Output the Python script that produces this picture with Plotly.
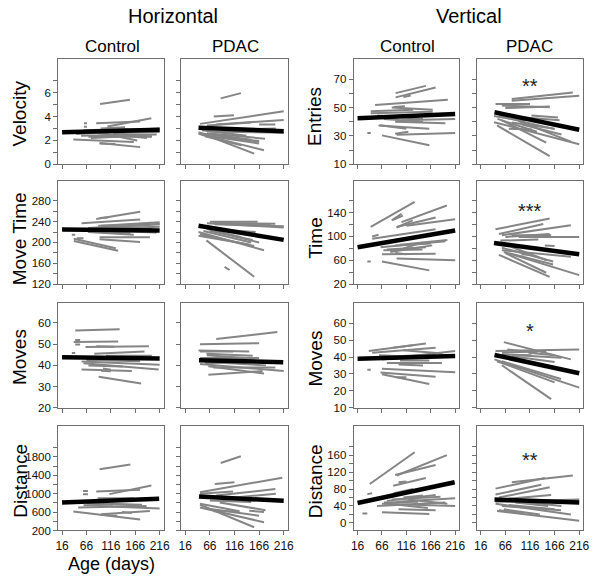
import plotly.graph_objects as go

# ---------------- data ----------------
age_ticks = [16, 66, 116, 166, 216]

# each individual segment: (age_start, age_end, value_start, value_end)
h_velocity_control = [
    (94, 155, 5.06, 5.42), (61, 67, 3.45, 3.45), (61, 67, 3.15, 3.15), (86, 176, 3.44, 3.58),
    (109, 199, 3.17, 3.86), (39, 163, 2.08, 1.86), (93, 176, 1.78, 1.44), (93, 125, 1.75, 1.70),
    (45, 216, 2.55, 2.90), (55, 210, 2.40, 2.50), (70, 200, 2.30, 2.30), (80, 216, 2.75, 3.00),
    (100, 216, 2.90, 2.95), (90, 190, 2.60, 2.20), (110, 170, 2.50, 2.00), (60, 150, 2.85, 2.95),
    (120, 216, 2.60, 2.70), (75, 130, 2.20, 2.30), (130, 200, 2.45, 2.35), (95, 145, 3.00, 3.10),
]
h_velocity_pdac = [
    (88, 129, 5.53, 5.97), (74, 115, 4.00, 4.11), (46, 216, 3.39, 4.44), (79, 216, 3.33, 3.72),
    (60, 150, 3.25, 3.50), (166, 199, 3.33, 3.33), (43, 156, 2.69, 0.89), (43, 176, 2.55, 1.17),
    (50, 166, 2.45, 1.75), (60, 178, 2.60, 2.15), (80, 166, 2.30, 1.95), (93, 166, 2.30, 1.90),
    (66, 216, 2.75, 2.65), (50, 140, 2.85, 2.40), (70, 150, 2.50, 2.05), (100, 200, 2.90, 3.00),
    (46, 120, 2.60, 2.20), (56, 130, 2.35, 1.60),
]
h_movetime_control = [
    (86, 176, 245, 259), (93, 110, 247, 248), (56, 176, 237, 244), (96, 216, 232, 239),
    (103, 216, 229, 236), (69, 216, 228, 235), (90, 196, 232, 233), (36, 43, 215, 215),
    (69, 163, 220, 215), (62, 156, 224, 218), (93, 196, 210, 210), (93, 176, 206, 201),
    (40, 131, 203, 184), (40, 126, 207, 189), (46, 60, 208, 208), (80, 216, 226, 230),
    (110, 200, 230, 226), (120, 210, 222, 219),
]
h_movetime_pdac = [
    (66, 163, 240, 240), (73, 199, 238, 236), (76, 216, 235, 231), (60, 216, 237, 229),
    (100, 190, 236, 233), (43, 176, 220, 185), (46, 156, 216, 193), (43, 146, 213, 196),
    (59, 156, 204, 134), (96, 106, 153, 147), (66, 153, 222, 205), (79, 159, 225, 220),
    (53, 150, 222, 200), (60, 130, 226, 210), (90, 166, 218, 200),
]
h_moves_control = [
    (43, 134, 56.4, 57.1), (40, 131, 51.0, 51.3), (43, 53, 52.0, 52.0), (43, 53, 49.8, 49.8),
    (64, 194, 48.7, 49.0), (86, 123, 49.0, 48.8), (82, 185, 45.5, 46.6), (56, 216, 41.8, 40.3),
    (60, 214, 41.0, 38.0), (56, 159, 38.0, 37.3), (91, 178, 34.6, 31.5), (100, 116, 38.5, 38.0),
    (96, 116, 37.5, 37.2), (36, 43, 45.9, 45.9), (66, 176, 42.5, 42.0), (106, 200, 44.5, 44.5),
    (80, 150, 43.5, 42.5), (100, 196, 42.8, 43.6), (70, 140, 40.0, 39.5),
]
h_moves_pdac = [
    (79, 203, 52.4, 55.7), (46, 166, 50.0, 50.5), (43, 146, 47.0, 46.5), (46, 113, 46.5, 46.5),
    (59, 153, 45.5, 44.5), (63, 176, 39.6, 36.2), (63, 173, 35.6, 37.3), (46, 216, 40.6, 37.3),
    (73, 199, 39.0, 39.0), (46, 166, 43.5, 43.5), (60, 140, 44.8, 43.5), (70, 180, 41.5, 40.0),
    (90, 200, 42.5, 42.0), (56, 130, 41.0, 41.5),
]
h_distance_control = [
    (93, 156, 1533, 1635), (59, 69, 1060, 1060), (59, 69, 990, 990), (86, 176, 1050, 1085),
    (113, 199, 990, 1180), (39, 176, 615, 437), (96, 129, 540, 520), (96, 196, 555, 625),
    (139, 159, 600, 580), (49, 189, 700, 730), (66, 169, 800, 750), (89, 163, 900, 900),
    (116, 216, 720, 680), (70, 150, 820, 860), (100, 180, 780, 760), (60, 120, 750, 760),
    (110, 200, 850, 900),
]
h_distance_pdac = [
    (88, 129, 1668, 1813), (76, 116, 1211, 1247), (46, 213, 1033, 1347), (46, 113, 1000, 1050),
    (79, 199, 960, 1100), (46, 156, 759, 271), (46, 176, 700, 380), (59, 166, 680, 520),
    (73, 126, 620, 620), (46, 126, 780, 620), (86, 179, 810, 640), (146, 176, 630, 600),
    (66, 150, 850, 820), (100, 200, 900, 1000),
]
v_entries_control = [
    (94, 156, 60.2, 65.3), (94, 176, 57.2, 64.2), (110, 125, 57.5, 58.5), (52, 201, 51.8, 55.5),
    (66, 163, 30.4, 23.5), (36, 43, 32.0, 32.0), (59, 163, 37.4, 35.1), (96, 216, 30.9, 32.1),
    (93, 196, 40.0, 39.0), (106, 216, 41.0, 42.0), (43, 170, 46.0, 47.0), (43, 130, 47.5, 48.5),
    (86, 170, 50.0, 48.5), (56, 150, 44.5, 42.0), (90, 113, 50.5, 51.0), (62, 116, 37.5, 35.0),
    (93, 120, 31.5, 33.0), (60, 140, 44.0, 43.5), (100, 200, 44.5, 45.5), (70, 150, 42.0, 40.0),
]
v_entries_pdac = [
    (79, 203, 56.0, 60.6), (79, 216, 54.8, 58.3), (46, 116, 52.5, 52.5), (59, 156, 51.4, 50.2),
    (66, 156, 49.7, 50.7), (43, 216, 39.7, 24.2), (49, 156, 37.4, 15.8), (53, 166, 44.0, 34.8),
    (59, 149, 41.0, 25.3), (66, 176, 44.0, 41.0), (93, 199, 40.5, 26.0), (79, 166, 39.5, 35.0),
    (43, 106, 44.0, 40.5), (73, 120, 35.0, 34.5), (119, 173, 44.5, 43.0), (50, 130, 42.0, 33.0),
    (100, 180, 38.0, 31.0),
]
v_time_control = [
    (43, 133, 116, 158), (86, 106, 127, 138), (89, 109, 128, 135), (96, 129, 115, 127),
    (96, 176, 116, 132), (106, 199, 124, 152), (116, 216, 118, 129), (46, 176, 96, 112),
    (46, 59, 100, 103), (63, 196, 82, 92), (76, 156, 78, 82), (83, 169, 74, 85),
    (93, 166, 85, 88), (66, 176, 70, 71), (96, 216, 63, 60), (66, 163, 58, 43),
    (36, 43, 58, 58), (69, 149, 77, 78), (93, 116, 72, 70), (103, 200, 86, 94), (110, 150, 80, 90),
]
v_time_pdac = [
    (46, 156, 112, 130), (53, 143, 104, 121), (59, 199, 102, 119), (66, 156, 99, 104),
    (79, 159, 102, 102), (93, 216, 99, 99), (56, 133, 93, 95), (146, 166, 85, 84),
    (59, 199, 77, 66), (53, 156, 69, 32), (63, 216, 74, 35), (66, 149, 72, 39),
    (73, 163, 72, 53), (59, 163, 81, 58), (99, 119, 70, 69), (70, 150, 85, 60),
]
v_moves_control = [
    (39, 156, 43.5, 48.0), (46, 176, 42.5, 45.5), (89, 129, 45.5, 47.0), (66, 216, 38.5, 43.5),
    (36, 43, 32.5, 32.5), (66, 216, 33.0, 31.0), (63, 176, 30.8, 28.4), (66, 163, 29.8, 24.0),
    (96, 116, 28.0, 28.0), (76, 189, 36.5, 36.5), (103, 163, 38.0, 38.0), (96, 176, 40.5, 41.5),
    (80, 200, 39.5, 40.0), (100, 150, 35.5, 35.0), (60, 140, 41.0, 40.0), (110, 190, 44.0, 42.0),
]
v_moves_pdac = [
    (63, 199, 48.8, 38.6), (46, 216, 43.5, 44.5), (59, 149, 42.5, 43.5), (79, 166, 40.5, 37.0),
    (44, 216, 38.6, 21.9), (59, 159, 35.1, 15.1), (49, 166, 37.5, 25.0), (59, 179, 37.5, 27.0),
    (79, 149, 39.5, 34.0), (59, 119, 41.5, 41.0), (113, 166, 42.5, 41.0), (70, 130, 44.5, 42.5),
    (90, 180, 41.0, 39.5),
]
v_distance_control = [
    (41, 133, 92, 167), (96, 199, 112, 160), (93, 176, 113, 137), (89, 156, 88, 106),
    (100, 116, 96, 98), (36, 46, 68, 70), (26, 36, 22, 22), (66, 163, 25, 21),
    (66, 216, 45, 40), (56, 196, 40, 48), (76, 176, 52, 66), (86, 186, 55, 62),
    (96, 216, 50, 58), (80, 160, 45, 35), (110, 150, 60, 65), (70, 140, 48, 50),
    (100, 176, 32, 30), (120, 200, 55, 45), (90, 130, 70, 80),
]
v_distance_pdac = [
    (46, 146, 81, 106), (79, 203, 96, 112), (46, 139, 67, 90), (53, 156, 60, 84),
    (49, 159, 55, 66), (46, 216, 50, 55), (49, 216, 28, 5), (53, 100, 30, 22),
    (63, 136, 32, 20), (59, 179, 40, 30), (46, 199, 45, 20), (73, 166, 42, 32),
    (86, 153, 48, 40), (66, 130, 52, 45), (100, 180, 50, 40),
]

# group fit lines: (age_start, age_end, value_start, value_end)
fit_h_velocity_control = (16, 216, 2.69, 2.89)
fit_h_velocity_pdac = (43, 216, 3.06, 2.78)
fit_h_movetime_control = (16, 216, 225, 223)
fit_h_movetime_pdac = (43, 216, 232, 205)
fit_h_moves_control = (16, 216, 43.8, 43.2)
fit_h_moves_pdac = (44, 215, 42.4, 41.5)
fit_h_distance_control = (16, 215, 809, 888)
fit_h_distance_pdac = (44, 216, 938, 845)
fit_v_entries_control = (16, 216, 42.5, 45.5)
fit_v_entries_pdac = (44, 216, 46.7, 34.4)
fit_v_time_control = (16, 216, 82, 110)
fit_v_time_pdac = (43, 216, 89, 70)
fit_v_moves_control = (16, 216, 39.0, 40.6)
fit_v_moves_pdac = (44, 216, 41.2, 30.4)
fit_v_distance_control = (16, 215, 47, 96)
fit_v_distance_pdac = (44, 216, 55, 48)

# significance marks (PDAC vertical panels): (label, age, value)
sig_entries = ("**", 116, 65.5)
sig_time = ("***", 116, 143)
sig_moves = ("*", 116, 55.5)
sig_distance = ("**", 116, 149)

row_labels_h = ["Velocity", "Move Time", "Moves", "Distance"]
row_labels_v = ["Entries", "Time", "Moves", "Distance"]

# y tick marks and labelled values per row / group
yticks_h_velocity = list(range(0, 8)); ylabels_h_velocity = [0, 2, 4, 6]
yticks_h_movetime = list(range(120, 281, 20)); ylabels_h_movetime = [120, 160, 200, 240, 280]
yticks_h_moves = [20, 30, 40, 50, 60]; ylabels_h_moves = [20, 30, 40, 50, 60]
yticks_h_distance = list(range(200, 2001, 200)); ylabels_h_distance = [200, 600, 1000, 1400, 1800]
yticks_v_entries = list(range(10, 71, 10)); ylabels_v_entries = [10, 30, 50, 70]
yticks_v_time = list(range(20, 161, 20)); ylabels_v_time = [20, 60, 100, 140]
yticks_v_moves = [10, 20, 30, 40, 50, 60]; ylabels_v_moves = [10, 20, 30, 40, 50, 60]
yticks_v_distance = list(range(0, 181, 20)); ylabels_v_distance = [0, 40, 80, 120, 160]

# ---------------- layout helpers ----------------
W, H = 600, 584
def fx(px):
    return px / W
def fy(py):
    return 1 - py / H

col_px = [(56, 163), (181, 289), (356, 463), (481, 589)]
row_px = [(60, 166), (183, 287), (306, 412), (430, 536)]

yspec = {
    (0, "h"): ([0, 8.8], yticks_h_velocity, ylabels_h_velocity),
    (1, "h"): ([120, 318], yticks_h_movetime, ylabels_h_movetime),
    (2, "h"): ([20, 69.5], yticks_h_moves, ylabels_h_moves),
    (3, "h"): ([200, 2480], yticks_h_distance, ylabels_h_distance),
    (0, "v"): ([10, 84], yticks_v_entries, ylabels_v_entries),
    (1, "v"): ([20, 193], yticks_v_time, ylabels_v_time),
    (2, "v"): ([10, 72], yticks_v_moves, ylabels_v_moves),
    (3, "v"): ([-18, 230], yticks_v_distance, ylabels_v_distance),
}

panels = [
    (0, 0, h_velocity_control, fit_h_velocity_control, None),
    (0, 1, h_velocity_pdac, fit_h_velocity_pdac, None),
    (0, 2, v_entries_control, fit_v_entries_control, None),
    (0, 3, v_entries_pdac, fit_v_entries_pdac, sig_entries),
    (1, 0, h_movetime_control, fit_h_movetime_control, None),
    (1, 1, h_movetime_pdac, fit_h_movetime_pdac, None),
    (1, 2, v_time_control, fit_v_time_control, None),
    (1, 3, v_time_pdac, fit_v_time_pdac, sig_time),
    (2, 0, h_moves_control, fit_h_moves_control, None),
    (2, 1, h_moves_pdac, fit_h_moves_pdac, None),
    (2, 2, v_moves_control, fit_v_moves_control, None),
    (2, 3, v_moves_pdac, fit_v_moves_pdac, sig_moves),
    (3, 0, h_distance_control, fit_h_distance_control, None),
    (3, 1, h_distance_pdac, fit_h_distance_pdac, None),
    (3, 2, v_distance_control, fit_v_distance_control, None),
    (3, 3, v_distance_pdac, fit_v_distance_pdac, sig_distance),
]

FONT = "Arial, Liberation Sans, sans-serif"
FRAME = "#6e6e6e"
fig = go.Figure()
annotations = []

for r, c, segs, fit, sig in panels:
    idx = r * 4 + c + 1
    xa = "x" if idx == 1 else f"x{idx}"
    ya = "y" if idx == 1 else f"y{idx}"
    xs, ys = [], []
    for a0, a1, v0, v1 in segs:
        xs += [a0, a1, None]
        ys += [v0, v1, None]
    fig.add_trace(go.Scatter(x=xs, y=ys, mode="lines", xaxis=xa, yaxis=ya,
                             line=dict(color="#858585", width=2), showlegend=False,
                             hoverinfo="skip"))
    fig.add_trace(go.Scatter(x=[fit[0], fit[1]], y=[fit[2], fit[3]], mode="lines",
                             xaxis=xa, yaxis=ya, line=dict(color="black", width=4.5),
                             showlegend=False, hoverinfo="skip"))
    g = "h" if c < 2 else "v"
    yr, ytv, ylab = yspec[(r, g)]
    x0, x1 = col_px[c]
    y0, y1 = row_px[r]
    xkey = "xaxis" if idx == 1 else f"xaxis{idx}"
    ykey = "yaxis" if idx == 1 else f"yaxis{idx}"
    fig.layout[xkey] = dict(
        domain=[fx(x0), fx(x1)], anchor=ya, range=[8, 224],
        tickmode="array", tickvals=age_ticks, ticktext=[str(t) for t in age_ticks],
        showticklabels=(r == 3), ticks="outside", ticklen=4, tickcolor=FRAME,
        showline=True, mirror=True, linecolor=FRAME, linewidth=1,
        showgrid=False, zeroline=False, fixedrange=True,
        tickfont=dict(family=FONT, size=12, color="#111"),
    )
    fig.layout[ykey] = dict(
        domain=[fy(y1), fy(y0)], anchor=xa, range=yr,
        tickmode="array", tickvals=ytv,
        ticktext=[str(v) if v in ylab else "" for v in ytv],
        showticklabels=(c in (0, 2)),
        ticks="outside", ticklen=4, tickcolor=FRAME,
        showline=True, mirror=True, linecolor=FRAME, linewidth=1,
        showgrid=False, zeroline=False, fixedrange=True,
        tickfont=dict(family=FONT, size=11.5, color="#111"),
    )
    if sig:
        annotations.append(dict(text=sig[0], x=sig[1], y=sig[2], xref=xa, yref=ya,
                                showarrow=False, font=dict(family=FONT, size=20, color="#222")))

def paper_ann(text, px, py, size, angle=0):
    annotations.append(dict(text=text, x=fx(px), y=fy(py), xref="paper", yref="paper",
                            showarrow=False, textangle=angle, xanchor="center", yanchor="middle",
                            font=dict(family=FONT, size=size, color="black")))

paper_ann("Horizontal", 173, 16, 20)
paper_ann("Vertical", 473, 16, 20)
paper_ann("Control", 111, 47, 17)
paper_ann("PDAC", 236, 47, 17)
paper_ann("Control", 411, 47, 17)
paper_ann("PDAC", 535, 47, 17)
row_centers_h = [115, 241, 361, 486]
row_centers_v = [118, 240, 362, 486]
for i, lab in enumerate(row_labels_h):
    paper_ann(lab, 17, row_centers_h[i], 19, -90)
for i, lab in enumerate(row_labels_v):
    paper_ann(lab, 317, row_centers_v[i], 19, -90)
paper_ann("Age (days)", 110, 570, 18)

fig.update_layout(
    width=W, height=H, margin=dict(l=0, r=0, t=0, b=0),
    paper_bgcolor="white", plot_bgcolor="white",
    annotations=annotations, showlegend=False,
)

# remove the browser's default 8px page margin so the figure sits at the window origin
fig.write_html("out.html", config={"displayModeBar": False},
               post_script="document.body.style.margin='0';document.body.style.overflow='hidden';")
